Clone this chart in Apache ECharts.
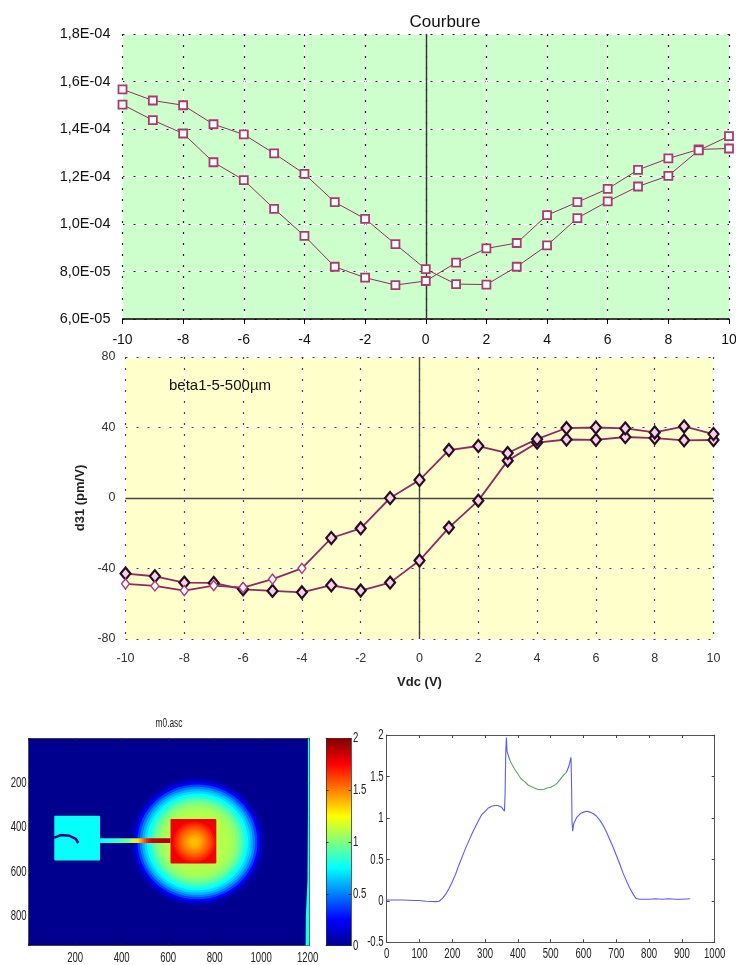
<!DOCTYPE html>
<html><head><meta charset="utf-8">
<style>html,body{margin:0;padding:0;background:#fff}#c{width:736px;height:965px}</style>
<script src="https://cdn.jsdelivr.net/npm/echarts@6/dist/echarts.min.js"></script>
</head><body><div id="c"></div>
<script>
// ---------- Courbure ----------
const vdc = [-10,-9,-8,-7,-6,-5,-4,-3,-2,-1,0,1,2,3,4,5,6,7,8,9,10];
const courbureA = [1.567e-4,1.52e-4,1.50e-4,1.42e-4,1.377e-4,1.297e-4,1.211e-4,1.092e-4,1.022e-4,9.15e-5,8.1e-5,7.47e-5,7.45e-5,8.2e-5,9.1e-5,1.025e-4,1.095e-4,1.158e-4,1.203e-4,1.31e-4,1.37e-4];
const courbureB = [1.503e-4,1.437e-4,1.381e-4,1.26e-4,1.185e-4,1.064e-4,9.5e-5,8.2e-5,7.74e-5,7.43e-5,7.6e-5,8.37e-5,8.97e-5,9.2e-5,1.037e-4,1.092e-4,1.148e-4,1.228e-4,1.276e-4,1.314e-4,1.318e-4];
const courbureTicks = ['6,0E-05','8,0E-05','1,0E-04','1,2E-04','1,4E-04','1,6E-04','1,8E-04'];
// ---------- d31 ----------
const d31A = [-42.9,-44.4,-48,-48.2,-51.8,-52.7,-53.5,-49.5,-52.5,-48,-35.5,-16.8,-1.5,21.2,31.4,33.2,33,34.6,34,32.7,32.9];
const d31B = [-48.7,-49.9,-52.5,-49.7,-50.8,-46,-39.9,-22.7,-17.2,0,10.2,27.2,29.5,25.5,33.4,39.7,40,39.5,37.2,40.6,36.3];
const d31ThinVdc = [-10,-9,-8,-7,-6,-5,-4];
// ---------- m0.asc image, read as regions ----------
const jetStops = ['#00008f','#0000ff','#007fff','#00ffff','#7fff7f','#ffff00','#ff7f00','#ff0000','#800000'];
const discCentre = [726,466];
const discProfile = [[298,0.02],[288,0.05],[278,0.12],[268,0.25],[258,0.38],[248,0.5],[238,0.6],[228,0.68],[218,0.75],[208,0.82],[198,0.88],[188,0.94],[178,1.0],[165,1.05],[150,1.08],[135,1.1]];
const squareBox = [610,363,807,563,1.78];
const squareCentre = [712,467];
const squareProfile = [[92,1.72],[84,1.67],[75,1.62],[67,1.58],[60,1.55],[52,1.51],[45,1.48],[37,1.45],[30,1.42],[22,1.4],[15,1.38]];
const padBox = [110,348,307,550,0.76];
const beamBand = [450,471];
const beamX = [307,340,370,400,430,450,470,490,510,530,610];
const beamV = [0.78,0.8,0.85,0.9,1.0,1.15,1.3,1.5,1.7,1.85,1.9];
const padCrack = [[110,447],[139,435],[174,438],[203,453],[213,471]];
const edgeStrip = [[1201,0],[1207,0],[1207,933],[1191,933],[1192,800],[1199,640],[1201,300]];
const colorbarRange = [0,2];
const heatXTicks = [200,400,600,800,1000,1200];
const heatYTicks = [200,400,600,800];
const colorbarTicks = [0,0.5,1,1.5,2];
// ---------- profile ----------
const profileBlueA = [[0,.01],[50,.01],[85,.005],[90,0],[100,.005],[120,-.005],[150,-.01],[160,-.005],[170,.03],[180,.08],[190,.15],[200,.23],[210,.32],[220,.43],[230,.53],[240,.63],[250,.72],[260,.81],[270,.89],[280,.97],[290,1.04],[300,1.08],[310,1.12],[320,1.14],[330,1.15],[340,1.15],[350,1.13],[355,1.11],[359,1.08],[361,1.3],[363,1.8],[365,1.97],[367,1.8],[372,1.74],[375,1.7]];
const profileGreen = [[375,1.7],[380,1.66],[390,1.59],[400,1.53],[410,1.47],[420,1.44],[430,1.4],[440,1.38],[450,1.36],[460,1.345],[470,1.34],[480,1.345],[490,1.36],[500,1.37],[510,1.39],[520,1.42],[530,1.47],[540,1.52],[548,1.55]];
const profileBlueB = [[548,1.55],[555,1.62],[562,1.73],[563,1.75],[564,1.3],[565,.95],[567,.84],[570,.93],[580,1.01],[590,1.05],[600,1.07],[610,1.08],[620,1.07],[630,1.05],[640,1.02],[650,.97],[660,.91],[670,.83],[680,.74],[690,.65],[700,.55],[710,.45],[720,.34],[730,.25],[740,.16],[750,.09],[760,.03],[770,.02],[800,.02],[820,.025],[840,.02],[860,.025],[880,.02],[900,.02],[925,.025]];
const lineXTicks = [0,100,200,300,400,500,600,700,800,900,1000];
const lineYTicks = [-0.5,0,0.5,1,1.5,2];

const jet = v => echarts.color.lerp(Math.max(0,Math.min(1,v/2)), jetStops);
const SANS = '"Liberation Sans",Arial,sans-serif';

const G = {
  curv:{left:122.5,top:34,width:606.5,height:285},
  d31:{left:125.5,top:357,width:588,height:282},
  heat:{left:28.7,top:738.3,width:280.6,height:207.4},
  bar:{left:326,top:738.3,width:25,height:207.4},
  line:{left:386.7,top:735,width:328,height:207.3}
};
const grids = [G.curv,G.d31,G.heat,G.bar,G.line];
const off = {show:false};
const xAxes=[], yAxes=[];
function axX(o){xAxes.push(Object.assign({type:'value',position:'bottom',axisLabel:off,axisLine:off,axisTick:off,splitLine:off},o));return xAxes.length-1;}
function axY(o){yAxes.push(Object.assign({type:'value',position:'left',axisLabel:off,axisLine:off,axisTick:off,splitLine:off},o));return yAxes.length-1;}
const white = {show:true,lineStyle:{color:'#fff',width:1,type:'solid'}};
const dots = c => ({show:true,lineStyle:{color:c,width:1.2,type:[2,9]}});

// chart 1
const c1rangeX={gridIndex:0,min:-10,max:10,interval:2}, c1rangeY={gridIndex:0,min:6e-5,max:1.8e-4,interval:2e-5};
axX({...c1rangeX,splitLine:white}); axY({...c1rangeY,splitLine:white});
const x1=axX({...c1rangeX,splitLine:dots('#222'),
  axisLine:{show:true,onZero:false,lineStyle:{color:'#000',width:1.5}},
  axisTick:{show:true,length:5,lineStyle:{color:'#000'}},
  axisLabel:{show:true,color:'#111',fontFamily:SANS,fontSize:14,margin:14,showMinLabel:true,showMaxLabel:true,hideOverlap:false}});
const y1=axY({...c1rangeY,splitLine:dots('#222'),
  axisLabel:{show:true,color:'#111',fontFamily:SANS,fontSize:14.5,margin:12,formatter:(v,i)=>courbureTicks[i]}});
// chart 2
const c2rangeX={gridIndex:1,min:-10,max:10,interval:2}, c2rangeY={gridIndex:1,min:-80,max:80,interval:40};
axX({...c2rangeX,splitLine:white}); axY({...c2rangeY,splitLine:white});
const x2=axX({...c2rangeX,splitLine:dots('#444'),
  name:'Vdc (V)',nameLocation:'middle',nameGap:37,nameTextStyle:{color:'#222',fontFamily:SANS,fontSize:13,fontWeight:'bold'},
  axisLabel:{show:true,color:'#333',fontFamily:SANS,fontSize:12.5,margin:13,showMinLabel:true,showMaxLabel:true}});
const y2=axY({...c2rangeY,splitLine:dots('#444'),
  name:'d31 (pm/V)',nameLocation:'middle',nameRotate:90,nameGap:37,nameTextStyle:{color:'#222',fontFamily:SANS,fontSize:13,fontWeight:'bold'},
  axisLabel:{show:true,color:'#333',fontFamily:SANS,fontSize:12.5,margin:10}});
// heat
const heatLine={show:true,onZero:false,lineStyle:{color:'#333',width:0.8}};
const inTick={show:true,inside:true,length:2.5,lineStyle:{color:'#222',width:0.8}};
const hx={gridIndex:2,min:0,max:1207,interval:200,z:5}, hy={gridIndex:2,min:0,max:933,interval:200,inverse:true,z:5};
const x3=axX({...hx,axisLine:heatLine,axisTick:inTick});
const y3=axY({...hy,axisLine:heatLine,axisTick:inTick});
axX({...hx,position:'top',axisLine:heatLine,axisTick:inTick});
axY({...hy,position:'right',axisLine:heatLine,axisTick:inTick});
// colorbar
const bx={gridIndex:3,min:0,max:1}, by={gridIndex:3,min:0,max:2,interval:.5,z:5};
const x4=axX({...bx,axisLine:heatLine});
axX({...bx,position:'top',axisLine:heatLine});
const y4=axY({...by,position:'right',axisLine:heatLine,axisTick:inTick});
axY({...by,position:'left',axisLine:heatLine,axisTick:inTick});
// line
const boxLine={show:true,onZero:false,lineStyle:{color:'#555',width:1}};
const boxTick={show:true,inside:true,length:3,lineStyle:{color:'#444',width:1}};
const lx={gridIndex:4,min:0,max:1000,interval:100}, ly={gridIndex:4,min:-.5,max:2,interval:.5};
const x5=axX({...lx,axisLine:boxLine,axisTick:boxTick});
const y5=axY({...ly,axisLine:boxLine,axisTick:boxTick});
axX({...lx,position:'top',axisLine:boxLine,axisTick:boxTick});
axY({...ly,position:'right',axisLine:boxLine,axisTick:boxTick});

const pair = (xs,ys) => xs.map((x,i)=>[x,ys[i]]);
const zeroLines = (xi,yi,data,color) => ({type:'line',xAxisIndex:xi,yAxisIndex:yi,data:[],z:1,silent:true,
  markLine:{silent:true,symbol:'none',z:1,animation:false,label:off,lineStyle:{color,width:1.4,type:'solid'},data}});
const curvLine = ys => ({type:'line',xAxisIndex:x1,yAxisIndex:y1,data:pair(vdc,ys),z:3,
  symbol:'rect',symbolSize:8,showSymbol:true,lineStyle:{color:'#8f2f62',width:1},
  itemStyle:{color:'#fff',borderColor:'#a93a72',borderWidth:1.8,opacity:1}});
const thick={symbolSize:[10,12],itemStyle:{color:'#f3d4e6',borderColor:'#2b0a24',borderWidth:2.2}};
const thin={symbolSize:[8,10],itemStyle:{color:'#fff',borderColor:'#b03a80',borderWidth:1.4}};
const d31Line = (ys,thinXs) => ({type:'line',xAxisIndex:x2,yAxisIndex:y2,z:3,symbol:'diamond',showSymbol:true,
  lineStyle:{color:'#8e2a66',width:1.8},itemStyle:{color:'#fff',borderColor:'#8e2a66'},
  data:vdc.map((x,i)=>Object.assign({value:[x,ys[i]]},thinXs.includes(x)?thin:thick))});
const heatBase={type:'custom',xAxisIndex:x3,yAxisIndex:y3,clip:true,silent:true,z:2};
const rings=(centre,prof,z)=>({...heatBase,z,data:prof,encode:{x:0,y:1},renderItem:(p,api)=>{
  const c=api.coord(centre), s=api.size([prof[p.dataIndex][0],prof[p.dataIndex][0]]);
  return {type:'ellipse',shape:{cx:c[0],cy:c[1],rx:s[0],ry:s[1]},style:{fill:jet(prof[p.dataIndex][1])}};
}});
const box=(b,z)=>({...heatBase,z,data:[[b[0],b[1]]],renderItem:(p,api)=>{
  const a=api.coord([b[0],b[1]]), d=api.coord([b[2],b[3]]);
  return {type:'rect',shape:{x:a[0],y:a[1],width:d[0]-a[0],height:d[1]-a[1],r:1},style:{fill:jet(b[4])}};
}});
// horizontally squeezed tick text: the reference photograph is compressed sideways
const squeezed=(xi,yi,pts,align,dx,dy,size,sx)=>({type:'custom',xAxisIndex:xi,yAxisIndex:yi,clip:false,silent:true,z:8,
  data:pts,encode:{x:0,y:1},renderItem:(p,api)=>{
    const q=pts[p.dataIndex], c=api.coord([q[0],q[1]]);
    return {type:'text',x:c[0]+dx,y:c[1]+dy,scaleX:sx,
      style:{text:String(q[2]),fill:'#222',font:size+'px '+SANS,align,verticalAlign:'middle'}};
  }});
const series=[
  zeroLines(x1,y1,[{xAxis:0}],'#333'),
  curvLine(courbureB),curvLine(courbureA),
  zeroLines(x2,y2,[{xAxis:0},{yAxis:0}],'#444'),
  d31Line(d31A,[]),d31Line(d31B,d31ThinVdc),
  // m0.asc image
  {...heatBase,z:1,data:[[0,0]],renderItem:(p,api)=>{
    const a=api.coord([0,0]),d=api.coord([1207,933]);
    return {type:'rect',shape:{x:a[0],y:a[1],width:d[0]-a[0],height:d[1]-a[1]},style:{fill:jet(0)}};
  }},
  rings(discCentre,discProfile,2),
  box(padBox,3),
  {...heatBase,z:3,data:[[beamX[0],beamBand[0]]],renderItem:(p,api)=>{
    const a=api.coord([beamX[0],beamBand[0]]), d=api.coord([beamX[beamX.length-1],beamBand[1]]);
    const span=beamX[beamX.length-1]-beamX[0];
    return {type:'rect',shape:{x:a[0],y:a[1],width:d[0]-a[0],height:d[1]-a[1]},
      style:{fill:new echarts.graphic.LinearGradient(0,0,1,0,beamX.map((x,i)=>({offset:(x-beamX[0])/span,color:jet(beamV[i])})))}};
  }},
  box(squareBox,4),
  rings(squareCentre,squareProfile,5),
  {...heatBase,z:6,data:[[padCrack[0][0],padCrack[0][1]]],renderItem:(p,api)=>({type:'polyline',
    shape:{points:padCrack.map(q=>api.coord(q))},style:{stroke:jet(0),lineWidth:2.5,fill:'none'}})},
  {...heatBase,z:6,data:[[edgeStrip[0][0],edgeStrip[0][1]]],renderItem:(p,api)=>({type:'polygon',
    shape:{points:edgeStrip.map(q=>api.coord(q))},style:{fill:jet(0.8)}})},
  // colour bar
  {type:'custom',xAxisIndex:x4,yAxisIndex:y4,silent:true,z:2,data:[[0,colorbarRange[0]]],renderItem:(p,api)=>{
    const a=api.coord([0,colorbarRange[1]]), d=api.coord([1,colorbarRange[0]]);
    return {type:'rect',shape:{x:a[0],y:a[1],width:d[0]-a[0],height:d[1]-a[1]},
      style:{fill:new echarts.graphic.LinearGradient(0,1,0,0,jetStops.map((c,i)=>({offset:i/(jetStops.length-1),color:c})))}};
  }},
  // profile
  ...[[profileBlueA,'#5a5cf5'],[profileGreen,'#58a860'],[profileBlueB,'#5a5cf5']].map(([d,c])=>({
    type:'line',xAxisIndex:x5,yAxisIndex:y5,data:d,symbol:'none',lineStyle:{color:c,width:1.1},z:3})),
  // squeezed tick labels
  squeezed(x3,y3,heatXTicks.map(v=>[v,933,v]),'center',0,12,15,.64),
  squeezed(x3,y3,heatYTicks.map(v=>[0,v,v]),'right',-2,0,15,.64),
  squeezed(x4,y4,colorbarTicks.map(v=>[1,v,v]),'left',2,0,15,.64),
  squeezed(x5,y5,lineXTicks.map(v=>[v,-.5,v]),'center',0,12,15,.64),
  squeezed(x5,y5,lineYTicks.map(v=>[0,v,v]),'right',-3,0,15,.64)
];
const chart=echarts.init(document.getElementById('c'),null,{renderer:'canvas'});
chart.setOption({
  animation:false,backgroundColor:'#fff',
  title:[{text:'Courbure',left:440,top:17,textAlign:'center',textVerticalAlign:'middle',textStyle:{color:'#111',fontFamily:SANS,fontSize:17,fontWeight:'normal'}},
         {text:'beta1-5-500µm',left:169,top:378,padding:0,textStyle:{color:'#111',fontFamily:SANS,fontSize:15,fontWeight:'normal'}}],
  graphic:[{type:'text',x:169,y:723,scaleX:.64,style:{text:'m0.asc',fill:'#222',font:'13px '+SANS,align:'center',verticalAlign:'middle'}}],
  grid:grids.map((g,i)=>({...g,outerBoundsMode:'none',show:i<2,backgroundColor:i===0?'#ccffcc':'#ffffcc',borderWidth:0})),
  xAxis:xAxes,yAxis:yAxes,series
});
</script></body></html>
